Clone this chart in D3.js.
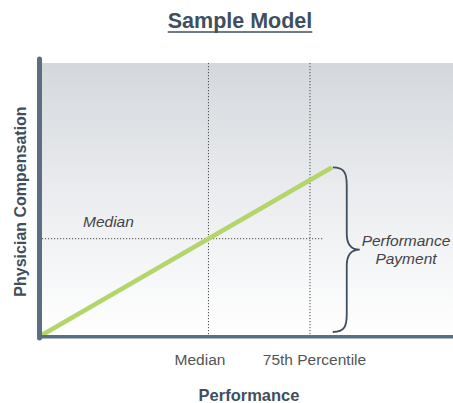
<!DOCTYPE html>
<html>
<head>
<meta charset="utf-8">
<script src="https://cdn.jsdelivr.net/npm/d3@7"></script>
<style>
  html, body { margin: 0; padding: 0; background: #ffffff; }
  svg { display: block; font-family: "Liberation Sans", Arial, sans-serif; }
</style>
</head>
<body>
<svg id="chart" width="453" height="403"></svg>
<script>
// Pay-for-performance model: compensation rises linearly with performance.
const performance = [0, 40.5, 70.5];        // start, median, top of the scale
const compensation = [0, 35.4, 61.6];       // matching compensation levels
const tickValues = [40.5, 65.2];            // reference points on the performance axis
const tickLabels = ["Median", "75th Percentile"];
const medianComp = 35.4;                    // compensation at median performance
const medianGuideEnd = 68.4;                // how far the median guide runs
const title = "Sample Model";
const xTitle = "Performance";
const yTitle = "Physician Compensation";
const medianLabel = "Median";
const braceLabel = ["Performance", "Payment"];

const svg = d3.select("#chart");
const W = 453;

const x = d3.scaleLinear().domain([0, 100]).range([42, 453]);
const y = d3.scaleLinear().domain([0, 100]).range([335, 63]);

// background gradient
const defs = svg.append("defs");
const grad = defs.append("linearGradient").attr("id", "bg")
  .attr("x1", 0).attr("y1", 0).attr("x2", 0).attr("y2", 1);
grad.append("stop").attr("offset", "0%").attr("stop-color", "#d4d8dc");
grad.append("stop").attr("offset", "45%").attr("stop-color", "#e9ebee");
grad.append("stop").attr("offset", "100%").attr("stop-color", "#ffffff");

svg.append("rect")
  .attr("x", x(0)).attr("y", y(100))
  .attr("width", x(100) - x(0)).attr("height", y(0) - y(100))
  .attr("fill", "url(#bg)");

// title
const t = svg.append("text")
  .attr("x", 240).attr("y", 28)
  .attr("text-anchor", "middle")
  .attr("font-size", 21.5).attr("font-weight", "bold")
  .attr("fill", "#3f4f5e")
  .text(title);
const tb = t.node().getBBox();
svg.append("line")
  .attr("x1", tb.x).attr("x2", tb.x + tb.width)
  .attr("y1", 32).attr("y2", 32)
  .attr("stroke", "#3f4f5e").attr("stroke-width", 1.6);

// dotted guides
const dotted = svg.append("g")
  .attr("stroke", "#4a4a4a").attr("stroke-width", 1)
  .attr("stroke-dasharray", "1.2,1.8").attr("fill", "none");
tickValues.forEach(v => {
  dotted.append("line")
    .attr("x1", x(v)).attr("x2", x(v))
    .attr("y1", y(100)).attr("y2", y(0));
});
dotted.append("line")
  .attr("x1", x(0)).attr("x2", x(medianGuideEnd))
  .attr("y1", y(medianComp)).attr("y2", y(medianComp));

// compensation line
const line = d3.line().x((d, i) => x(performance[i])).y(d => y(d));
svg.append("path")
  .datum(compensation)
  .attr("d", line)
  .attr("fill", "none")
  .attr("stroke", "#b3d56a")
  .attr("stroke-width", 4.5)
  .attr("stroke-linecap", "butt");

// axes (no ticks, domain line only)
const xAxis = d3.axisBottom(x).tickValues(tickValues)
  .tickSize(0).tickSizeOuter(0).tickFormat((d, i) => tickLabels[i]);
const gx = svg.append("g").attr("transform", `translate(0,${y(0) + 1.7})`).call(xAxis);
gx.select(".domain").attr("stroke", "#5b6e82").attr("stroke-width", 3.4)
  .attr("d", `M${x(0) - 5},0H${W}`);
gx.selectAll(".tick text")
  .attr("y", 0).attr("dy", 0)
  .attr("transform", (d, i) => `translate(${i === 0 ? -9 : 4},28.5)`)
  .attr("font-size", 15.5)
  .attr("font-family", "'Liberation Sans', Arial, sans-serif")
  .attr("fill", "#555555");

const yAxis = d3.axisLeft(y).tickValues([]).tickSize(0).tickSizeOuter(0);
const gy = svg.append("g").attr("transform", `translate(${x(0) - 2.5},0)`).call(yAxis);
gy.select(".domain").attr("stroke", "#5b6e82").attr("stroke-width", 5)
  .attr("stroke-linecap", "round")
  .attr("d", `M0,${y(100) - 4}V${y(0) + 3}`);

// axis titles
svg.append("text")
  .attr("x", 249).attr("y", 401)
  .attr("text-anchor", "middle")
  .attr("font-size", 16.5).attr("font-weight", "bold")
  .attr("fill", "#3f4f5e")
  .text(xTitle);
svg.append("text")
  .attr("transform", `translate(26,201.5) rotate(-90)`)
  .attr("text-anchor", "middle")
  .attr("font-size", 16).attr("font-weight", "bold")
  .attr("fill", "#3f4f5e")
  .text(yTitle);

// median label
svg.append("text")
  .attr("x", 83).attr("y", 227)
  .attr("font-size", 15.5).attr("font-style", "italic")
  .attr("fill", "#444444")
  .text(medianLabel);

// brace spanning the performance payment
const braceTop = y(compensation[2]), braceBot = y(0) - 3;
const braceMid = (braceTop + braceBot) / 2;
const bx0 = x(performance[2]) + 1, bx1 = bx0 + 14, tip = bx0 + 27;
const p = d3.path();
p.moveTo(bx0, braceTop);
p.bezierCurveTo(bx1 - 2, braceTop, bx1, braceTop + 6, bx1, braceTop + 18);
p.lineTo(bx1, braceMid - 16);
p.bezierCurveTo(bx1, braceMid - 4, tip - 8, braceMid, tip, braceMid);
p.bezierCurveTo(tip - 8, braceMid, bx1, braceMid + 4, bx1, braceMid + 16);
p.lineTo(bx1, braceBot - 18);
p.bezierCurveTo(bx1, braceBot - 6, bx1 - 2, braceBot, bx0, braceBot);
svg.append("path").attr("d", p.toString())
  .attr("fill", "none").attr("stroke", "#3f4f5e").attr("stroke-width", 1.8);

svg.append("text")
  .attr("text-anchor", "middle")
  .attr("font-size", 15.5).attr("font-style", "italic")
  .attr("fill", "#444444")
  .selectAll("tspan").data(braceLabel).join("tspan")
  .attr("x", 406).attr("y", (d, i) => 246 + i * 18)
  .text(d => d);
</script>
</body>
</html>
